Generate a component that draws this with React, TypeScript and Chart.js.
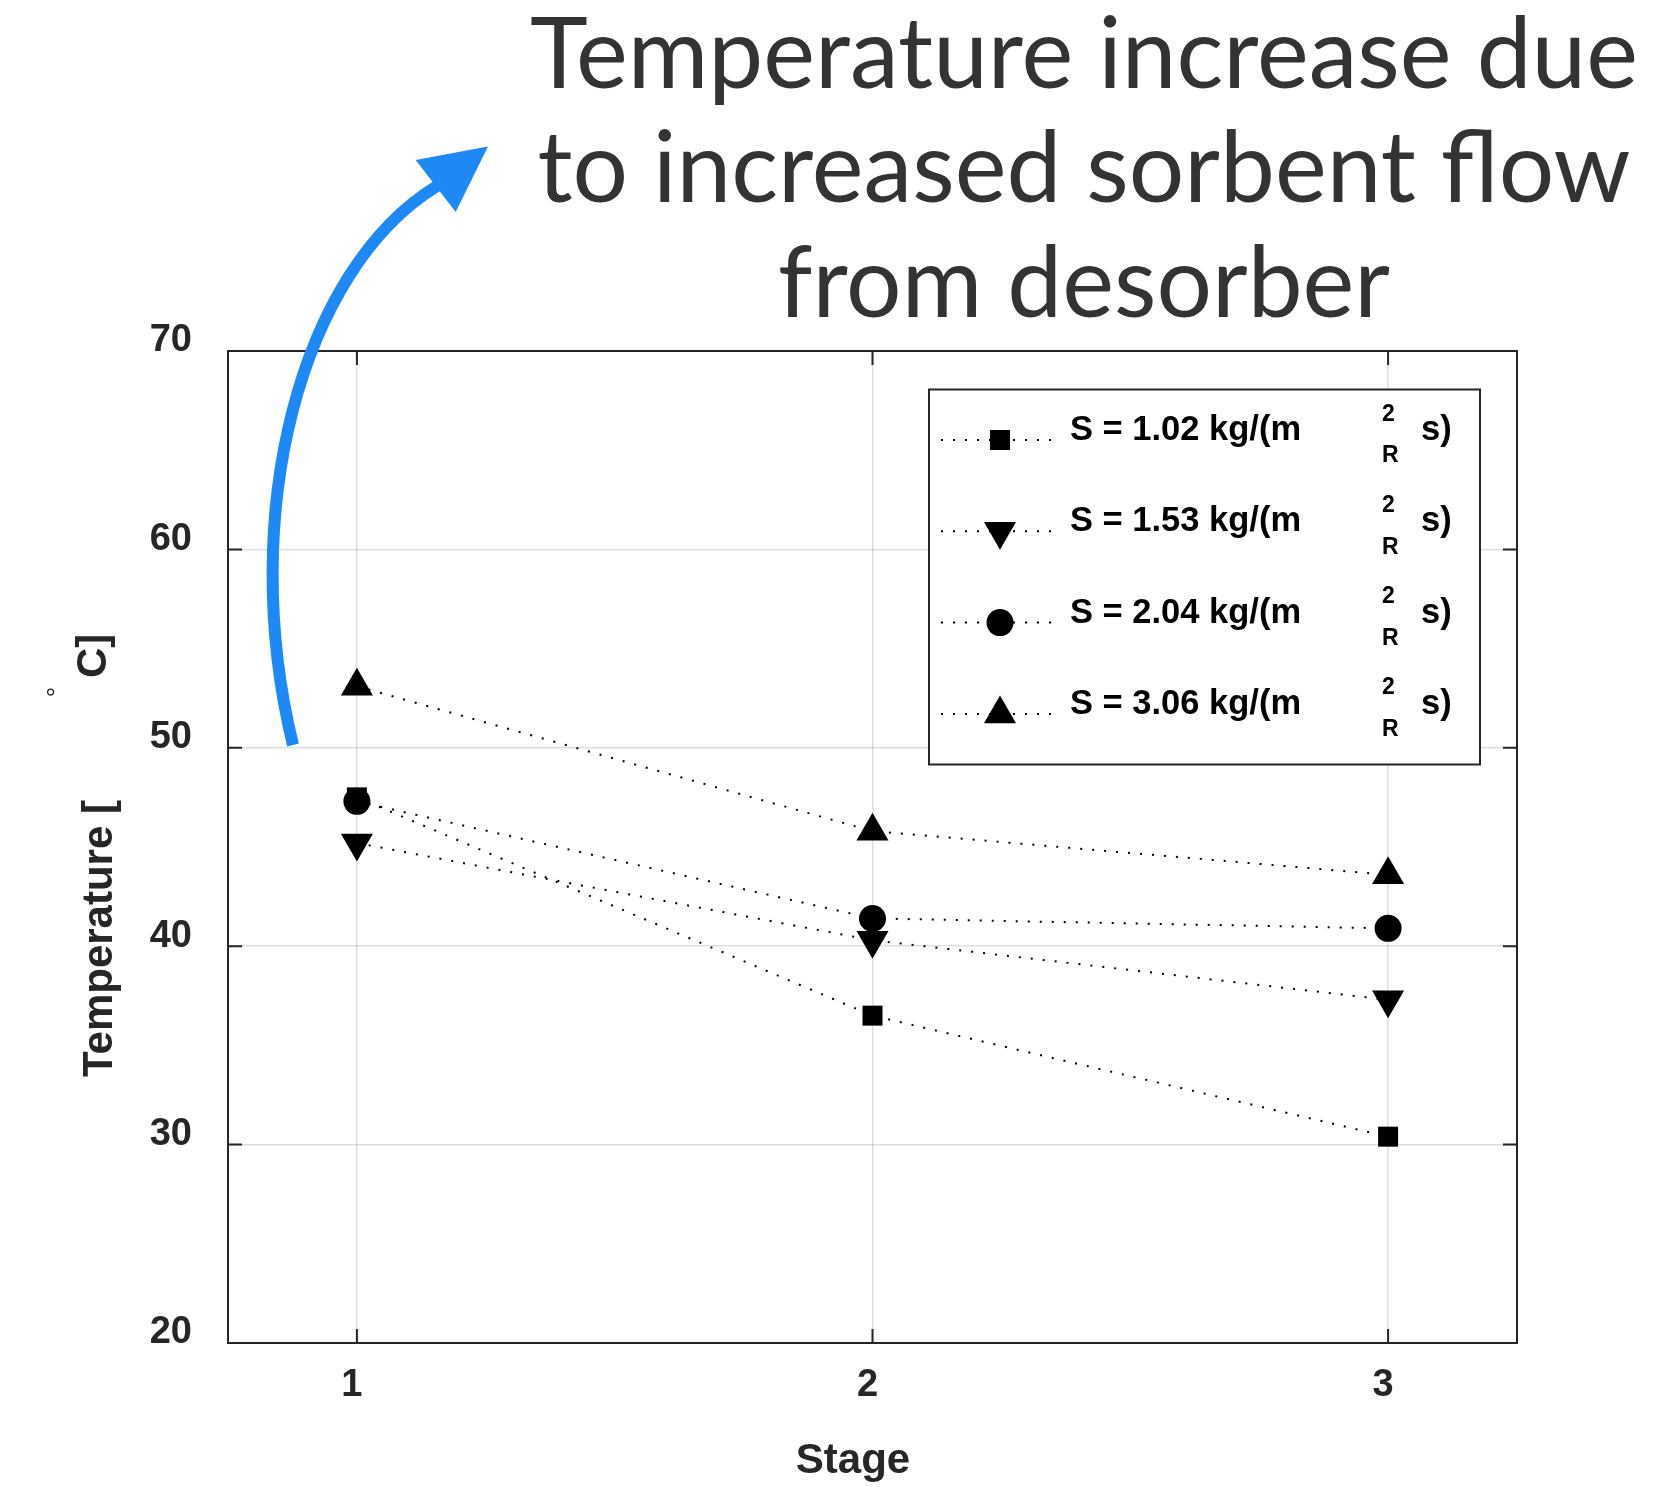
import React, { useEffect, useRef } from "react";
import { Chart, registerables } from "chart.js";

Chart.register(...registerables);

// ---------- data ----------
const stages = [1, 2, 3];
const flowRates = ["1.02", "1.53", "2.04", "3.06"];
const tempS102 = [47.5, 36.5, 30.4];
const tempS153 = [45.2, 40.3, 37.3];
const tempS204 = [47.3, 41.4, 40.9];
const tempS306 = [53.1, 45.8, 43.6];
const xTicks = [1, 2, 3];
const yTicks = [20, 30, 40, 50, 60, 70];
const titleLines = ["Temperature increase due", "to increased sorbent flow", "from desorber"];
const xTitle = "Stage";
const yTitleParts = ["Temperature [", "°", "C]"];
const legendSuffix = ["2", "R", "s)"];

// ---------- styles ----------
const W = 1661;
const H = 1487;
const AXIS_COLOR = "#262626";
const GRID_COLOR = "rgba(0,0,0,0.13)";
const ARROW_COLOR = "#1E88F6";
const FONT = "'Liberation Sans', Arial, Helvetica, sans-serif";
const AREA = { left: 228, top: 351, right: 1517, bottom: 1343 };
const Y_AXIS_W = 90;
const X_AXIS_H = 70;

const markerStyles = [
  { style: "rect", radius: 14.14, rotation: 0 },
  { style: "triangle", radius: 18.5, rotation: 180 },
  { style: "circle", radius: 13.5, rotation: 0 },
  { style: "triangle", radius: 18.5, rotation: 0 },
];
const seriesValues = [tempS102, tempS153, tempS204, tempS306];

function drawMarker(ctx: CanvasRenderingContext2D, style: string, rotation: number, r: number, x: number, y: number) {
  ctx.beginPath();
  if (style === "rect") {
    const s = r * Math.SQRT1_2;
    ctx.rect(x - s, y - s, 2 * s, 2 * s);
  } else if (style === "circle") {
    ctx.arc(x, y, r, 0, Math.PI * 2);
  } else {
    let rad = (rotation * Math.PI) / 180;
    ctx.moveTo(x + Math.sin(rad) * r, y - Math.cos(rad) * r);
    for (let i = 0; i < 2; i++) {
      rad += (2 * Math.PI) / 3;
      ctx.lineTo(x + Math.sin(rad) * r, y - Math.cos(rad) * r);
    }
  }
  ctx.closePath();
  ctx.fill();
}

const decorPlugin = {
  id: "decor",
  beforeDatasetsDraw(chart: any) {
    const { ctx, chartArea: a, scales } = chart;
    ctx.save();
    ctx.strokeStyle = AXIS_COLOR;
    ctx.lineWidth = 2;
    ctx.strokeRect(a.left, a.top, a.right - a.left, a.bottom - a.top);
    const tl = 14;
    ctx.beginPath();
    for (const v of xTicks) {
      const px = scales.x.getPixelForValue(v);
      ctx.moveTo(px, a.bottom);
      ctx.lineTo(px, a.bottom - tl);
      ctx.moveTo(px, a.top);
      ctx.lineTo(px, a.top + tl);
    }
    for (const v of yTicks) {
      const py = scales.y.getPixelForValue(v);
      ctx.moveTo(a.left, py);
      ctx.lineTo(a.left + tl, py);
      ctx.moveTo(a.right, py);
      ctx.lineTo(a.right - tl, py);
    }
    ctx.stroke();
    ctx.restore();
  },
  afterDraw(chart: any) {
    const { ctx, chartArea: a } = chart;
    ctx.save();

    // Big annotation title
    ctx.fillStyle = "#333333";
    ctx.font = "400 98px Lato, 'Open Sans', sans-serif";
    ctx.textAlign = "center";
    ctx.textBaseline = "alphabetic";
    titleLines.forEach((line, i) => ctx.fillText(line, 1084, 87.5 + i * 114.7));

    // Curved arrow
    ctx.strokeStyle = ARROW_COLOR;
    ctx.fillStyle = ARROW_COLOR;
    ctx.lineWidth = 12;
    ctx.lineCap = "butt";
    ctx.beginPath();
    ctx.moveTo(293, 745);
    ctx.bezierCurveTo(237, 515, 300, 270, 437, 186);
    ctx.stroke();
    ctx.beginPath();
    ctx.moveTo(488, 146.5);
    ctx.lineTo(415.7, 160);
    ctx.lineTo(455.7, 212);
    ctx.closePath();
    ctx.fill();

    // Axis titles
    ctx.fillStyle = AXIS_COLOR;
    ctx.font = `bold 42px ${FONT}`;
    ctx.textAlign = "center";
    ctx.fillText(xTitle, 853, 1473);

    ctx.save();
    ctx.translate(112, 1077);
    ctx.rotate(-Math.PI / 2);
    ctx.textAlign = "left";
    ctx.fillText(yTitleParts[0], 0, 0);
    ctx.restore();

    ctx.save();
    ctx.translate(65, 692);
    ctx.rotate(-Math.PI / 2);
    ctx.textAlign = "center";
    ctx.font = `26px ${FONT}`;
    ctx.fillText(yTitleParts[1], 0, 0);
    ctx.restore();

    ctx.save();
    ctx.translate(106, 678);
    ctx.rotate(-Math.PI / 2);
    ctx.textAlign = "left";
    ctx.fillText(yTitleParts[2], 0, 0);
    ctx.restore();

    // Legend
    const lx = a.left + 701;
    const ly = a.top + 38.5;
    const lw = 551;
    const lh = 375;
    ctx.fillStyle = "#ffffff";
    ctx.fillRect(lx, ly, lw, lh);
    ctx.strokeStyle = AXIS_COLOR;
    ctx.lineWidth = 2;
    ctx.strokeRect(lx, ly, lw, lh);
    chart.data.datasets.forEach((ds: any, i: number) => {
      const y = ly + 50.5 + i * 91.3;
      ctx.save();
      ctx.strokeStyle = "#000";
      ctx.lineWidth = 2;
      ctx.setLineDash([2, 10]);
      ctx.beginPath();
      ctx.moveTo(lx + 12, y);
      ctx.lineTo(lx + 122, y);
      ctx.stroke();
      ctx.restore();
      ctx.fillStyle = "#000";
      const m = markerStyles[i];
      drawMarker(ctx, m.style, m.rotation, m.radius, lx + 71, y);
      ctx.textAlign = "left";
      ctx.font = `bold 34.5px ${FONT}`;
      ctx.fillText(ds.label, lx + 141, y);
      ctx.fillText(legendSuffix[2], lx + 492, y);
      ctx.font = `bold 23px ${FONT}`;
      ctx.fillText(legendSuffix[0], lx + 453, y - 19.5);
      ctx.fillText(legendSuffix[1], lx + 453, y + 22.4);
    });

    ctx.restore();
  },
};

export default function App() {
  const canvasRef = useRef<HTMLCanvasElement | null>(null);

  useEffect(() => {
    document.body.style.margin = "0";
    const canvas = canvasRef.current;
    if (!canvas) return;
    const datasets = seriesValues.map((vals, i) => ({
      label: `S = ${flowRates[i]} kg/(m`,
      data: stages.map((s, j) => ({ x: s, y: vals[j] })),
      borderColor: "#000000",
      backgroundColor: "#000000",
      borderWidth: 2,
      borderDash: [2, 10],
      pointStyle: markerStyles[i].style,
      pointRadius: markerStyles[i].radius,
      pointRotation: markerStyles[i].rotation,
      pointBackgroundColor: "#000000",
      pointBorderWidth: 0,
      pointHoverRadius: markerStyles[i].radius,
      fill: false,
      tension: 0,
    }));

    const tickFont = { family: FONT, size: 38, weight: "bold" as const };
    const chart = new Chart(canvas, {
      type: "line",
      data: { datasets },
      plugins: [decorPlugin],
      options: {
        animation: false,
        responsive: false,
        maintainAspectRatio: false,
        layout: {
          padding: {
            left: AREA.left - Y_AXIS_W,
            right: W - AREA.right,
            top: AREA.top,
            bottom: H - AREA.bottom - X_AXIS_H,
          },
        },
        plugins: { legend: { display: false }, tooltip: { enabled: false } },
        scales: {
          x: {
            type: "linear",
            min: 0.75,
            max: 3.25,
            afterBuildTicks: (s: any) => {
              s.ticks = xTicks.map((v) => ({ value: v }));
            },
            afterFit: (s: any) => {
              s.height = X_AXIS_H;
            },
            grid: { color: GRID_COLOR, lineWidth: 1.5, drawTicks: false },
            border: { display: false },
            ticks: {
              font: tickFont,
              color: AXIS_COLOR,
              padding: 20,
              labelOffset: -5,
              maxRotation: 0,
              callback: (v: any) => String(v),
            },
          },
          y: {
            type: "linear",
            min: 20,
            max: 70,
            afterBuildTicks: (s: any) => {
              s.ticks = yTicks.map((v) => ({ value: v }));
            },
            afterFit: (s: any) => {
              s.width = Y_AXIS_W;
            },
            grid: { color: GRID_COLOR, lineWidth: 1.5, drawTicks: false },
            border: { display: false },
            ticks: {
              font: tickFont,
              color: AXIS_COLOR,
              padding: 36,
              labelOffset: -10,
              callback: (v: any) => String(v),
            },
          },
        },
      },
    });
    return () => chart.destroy();
  }, []);

  return (
    <div style={{ width: W, height: H }}>
      <canvas ref={canvasRef} width={W} height={H} style={{ display: "block" }} />
    </div>
  );
}
